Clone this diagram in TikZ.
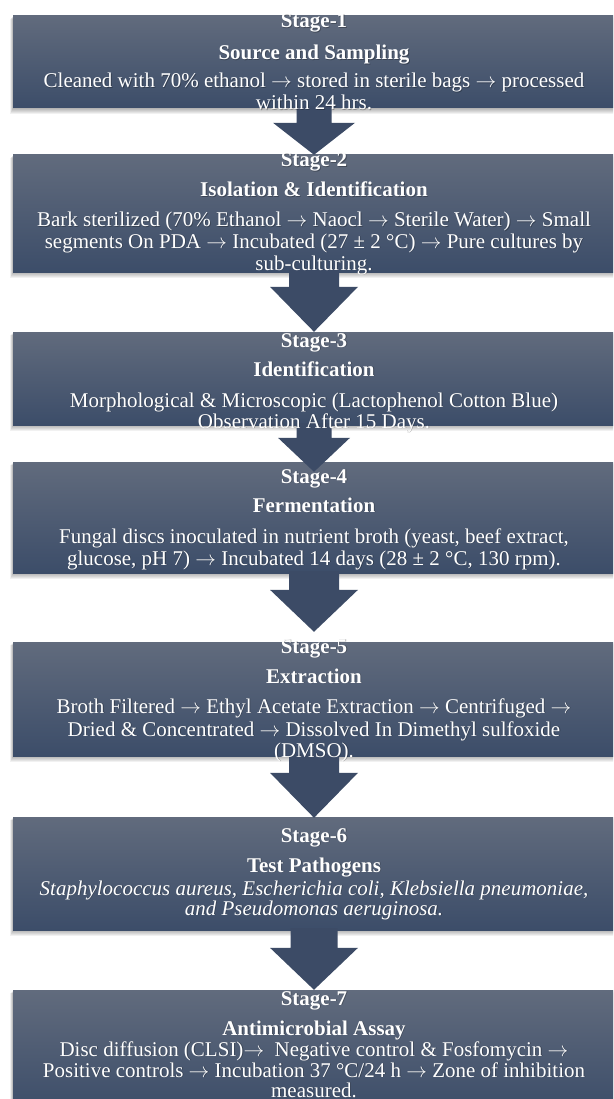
\documentclass[tikz,border=0pt]{standalone}
\usepackage{fontspec}
\setmainfont{Liberation Serif}
\usetikzlibrary{calc}
\definecolor{boxtop}{RGB}{97,107,125}
\definecolor{boxbot}{RGB}{60,77,105}
\definecolor{arrc}{RGB}{60,75,102}
\newcommand\ra{\ensuremath{\rightarrow}}
\tikzset{
  stagebox/.style={rectangle, inner sep=0pt, minimum width=602pt, top color=boxtop, bottom color=boxbot, draw=none},
  arr/.style={fill=arrc},
  shd/.style={black, opacity=0.055},
  ln/.style={anchor=base, inner sep=0pt, text=white, font=\fontsize{21}{24}\selectfont},
  hd/.style={anchor=base, inner sep=0pt, text=white, font=\fontsize{21}{24}\selectfont\bfseries},
  it/.style={anchor=base, inner sep=0pt, text=white, font=\fontsize{21}{24}\selectfont\itshape},
  tsh/.style={text=black, opacity=0.28},
}
% name, top, bottom, height
\newcommand\mkbox[4]{%
  \foreach \k in {1,...,6} {\fill[shd] ({13-0.5*\k},{#2+0.5*\k}) rectangle (615,{#3+\k});}
  \node[stagebox, minimum height=#4pt] (#1) at (314,{(#2+#3)/2}) {};}
% from node, tip coordinate, head length, shaft half width, head half width
\newcommand\blockarrow[5]{%
  \fill[arr] let \p1=(#1.south), \p2=(#2) in
    (\x2-#4pt,\y1+2pt) -- (\x2-#4pt,\y2+#3pt) -- (\x2-#5pt,\y2+#3pt) -- (\x2,\y2)
    -- (\x2+#5pt,\y2+#3pt) -- (\x2+#4pt,\y2+#3pt) -- (\x2+#4pt,\y1+2pt) -- cycle;}
% name, style, y, text (with a soft dark text shadow, as in the reference)
\newcommand\tl[4]{%
  \node[#2, tsh] (#1sh) at (314.8,#3+0.9) {#4};
  \node[#2] (#1) at (314,#3) {#4};}
\begin{document}
\begin{tikzpicture}[x=1pt, y=-1pt]
\clip (0,0) rectangle (613,1099);
\fill[white] (0,0) rectangle (613,1099);
% boxes
\mkbox{b1}{16}{108}{92}
\mkbox{b2}{155}{272}{117}
\mkbox{b3}{332}{425}{93}
\mkbox{b4}{462}{573}{111}
\mkbox{b5}{642}{756}{114}
\mkbox{b6}{817}{930}{113}
\mkbox{b7}{990}{1112}{122}
% arrow tips
\coordinate (t1) at (b2.north);
\coordinate (t2) at (b3.north);
\coordinate (t3) at ([yshift=-10pt]b4.north);
\coordinate (t4) at ([yshift=10pt]b5.north);
\coordinate (t5) at ([yshift=-1pt]b6.north);
\coordinate (t6) at (b7.north);
% arrows
\blockarrow{b1}{t1}{32}{17.5}{41}
\blockarrow{b2}{t2}{45}{25}{44}
\blockarrow{b3}{t3}{34}{17.5}{36}
\blockarrow{b4}{t4}{42}{25}{44}
\blockarrow{b5}{t5}{45}{25}{44}
\blockarrow{b6}{t6}{42}{23.5}{44}
% texts
\tl{s1}{hd}{28}{Stage-1}
\tl{h1}{hd}{60}{Source and Sampling}
\tl{x1a}{ln}{88}{Cleaned with 70\% ethanol \ra{} stored in sterile bags \ra{} processed}
\tl{x1b}{ln}{110}{within 24 hrs.}
\tl{s2}{hd}{167}{Stage-2}
\tl{h2}{hd}{197}{Isolation \& Identification}
\tl{x2a}{ln}{227}{Bark sterilized (70\% Ethanol \ra{} Naocl \ra{} Sterile Water) \ra{} Small}
\tl{x2b}{ln}{248}{segments On PDA \ra{} Incubated (27 ± 2 °C) \ra{} Pure cultures by}
\tl{x2c}{ln}{270}{sub-culturing.}
\tl{s3}{hd}{347}{Stage-3}
\tl{h3}{hd}{376}{Identification}
\tl{x3a}{ln}{407}{Morphological \& Microscopic (Lactophenol Cotton Blue)}
\tl{x3b}{ln}{428}{Observation After 15 Days.}
\tl{s4}{hd}{483}{Stage-4}
\tl{h4}{hd}{512}{Fermentation}
\tl{x4a}{ln}{543}{Fungal discs inoculated in nutrient broth (yeast, beef extract,}
\tl{x4b}{ln}{565}{glucose, pH 7) \ra{} Incubated 14 days (28 ± 2 °C, 130 rpm).}
\tl{s5}{hd}{653}{Stage-5}
\tl{h5}{hd}{683}{Extraction}
\tl{x5a}{ln}{713}{Broth Filtered \ra{} Ethyl Acetate Extraction \ra{} Centrifuged \ra}
\tl{x5b}{ln}{736}{Dried \& Concentrated \ra{} Dissolved In Dimethyl sulfoxide}
\tl{x5c}{ln}{757}{(DMSO).}
\tl{s6}{hd}{842}{Stage-6}
\tl{h6}{hd}{872}{Test Pathogens}
\tl{x6a}{it}{895}{Staphylococcus aureus, Escherichia coli, Klebsiella pneumoniae,}
\tl{x6b}{it}{915}{and Pseudomonas aeruginosa.}
\tl{s7}{hd}{1005}{Stage-7}
\tl{h7}{hd}{1035}{Antimicrobial Assay}
\tl{x7a}{ln}{1056}{Disc diffusion (CLSI)\ra\ \ Negative control \& Fosfomycin \ra}
\tl{x7b}{ln}{1077}{Positive controls \ra{} Incubation 37 °C/24 h \ra{} Zone of inhibition}
\tl{x7c}{ln}{1097}{measured.}
\end{tikzpicture}
\end{document}
